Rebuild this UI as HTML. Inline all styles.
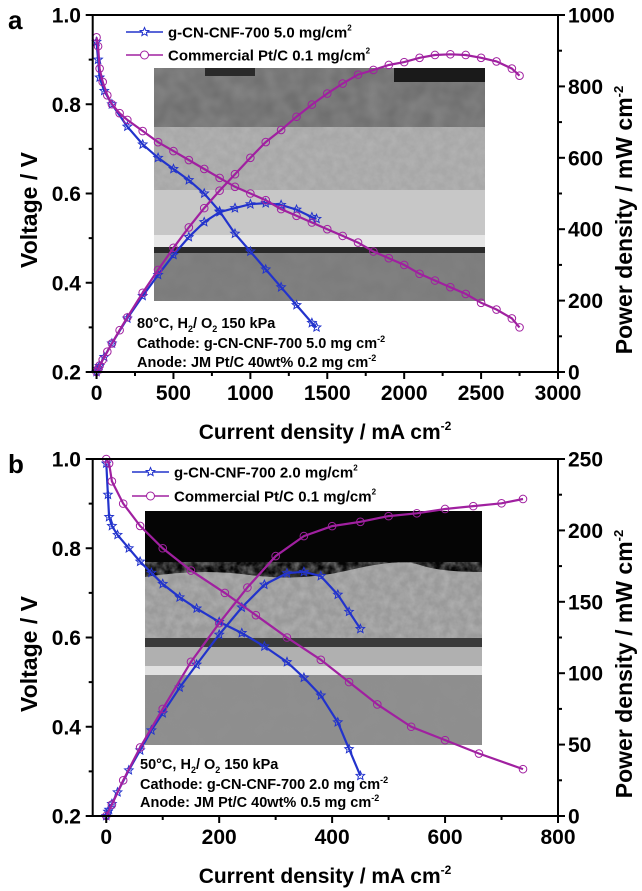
<!DOCTYPE html>
<html><head><meta charset="utf-8"><style>
html,body{margin:0;padding:0;background:#fff}
svg{display:block;font-family:"Liberation Sans",Arial,sans-serif;font-weight:bold}
</style></head><body>
<svg id="fig" width="642" height="891" viewBox="0 0 642 891">
<defs>
<filter id="tex" x="0" y="0" width="100%" height="100%">
<feTurbulence type="fractalNoise" baseFrequency="0.12" numOctaves="3" seed="3"/>
<feColorMatrix type="matrix" values="0 0 0 0 0.5  0 0 0 0 0.5  0 0 0 0 0.5  0 0 0 1.1 -0.3"/>
</filter>
<filter id="tex2" x="0" y="0" width="100%" height="100%">
<feTurbulence type="fractalNoise" baseFrequency="0.06" numOctaves="2" seed="8"/>
<feColorMatrix type="matrix" values="0 0 0 0 0.3  0 0 0 0 0.3  0 0 0 0 0.3  0 0 0 0.9 -0.2"/>
</filter>
</defs>
<g>
<rect x="154" y="68" width="331" height="60" fill="#707070"/>
<rect x="154" y="68" width="331" height="60" filter="url(#tex2)" opacity="0.9"/>
<rect x="394" y="68" width="91" height="14" fill="#1a1a1a"/>
<rect x="205" y="68" width="50" height="8" fill="#2a2a2a"/>
<rect x="154" y="127" width="331" height="63" fill="#a8a8a8"/>
<rect x="154" y="127" width="331" height="63" filter="url(#tex)" opacity="0.8"/>
<rect x="154" y="190" width="331" height="45" fill="#c7c7c7"/>
<rect x="154" y="235" width="331" height="12" fill="#e6e6e6"/>
<rect x="154" y="247" width="331" height="6" fill="#2a2a2a"/>
<rect x="154" y="253" width="331" height="48" fill="#7c7c7c"/>
<rect x="154" y="253" width="331" height="48" filter="url(#tex2)" opacity="0.4"/>
</g>
<g>
<rect x="145" y="511" width="337" height="234" fill="#050505"/>
<path d="M145 577 Q200 568 250 575 T350 570 T420 565 T482 572 L482 638 L145 638 Z" fill="#9a9a9a"/>
<path d="M145 577 Q200 568 250 575 T350 570 T420 565 T482 572 L482 638 L145 638 Z" fill="#000" filter="url(#tex)" opacity="0.9"/>
<rect x="145" y="638" width="337" height="9" fill="#3a3a3a"/>
<rect x="145" y="647" width="337" height="19" fill="#b0b0b0"/>
<rect x="145" y="666" width="337" height="9" fill="#e0e0e0"/>
<rect x="145" y="675" width="337" height="70" fill="#8e8e8e"/>
<rect x="145" y="675" width="337" height="70" filter="url(#tex2)" opacity="0.35"/>
</g>
</svg>
<script>
const aGcnI = [0,10,20,50,100,200,300,400,500,600,700,800,900,1000,1100,1200,1300,1400,1430];
const aGcnV = [0.94,0.90,0.86,0.83,0.80,0.75,0.71,0.68,0.655,0.63,0.60,0.56,0.51,0.47,0.43,0.39,0.35,0.31,0.30];
const aGcnP = [0,9,17,42,80,150,213,272,328,378,420,448,459,470,473,468,455,434,429];
const aPtI = [0,10,20,40,70,100,150,200,300,400,500,600,700,800,900,1000,1100,1200,1300,1400,1500,1600,1700,1800,1900,2000,2100,2200,2300,2400,2500,2600,2700,2750];
const aPtV = [0.95,0.93,0.88,0.85,0.82,0.80,0.78,0.765,0.74,0.715,0.695,0.675,0.655,0.635,0.615,0.60,0.585,0.565,0.55,0.535,0.52,0.505,0.49,0.47,0.455,0.44,0.42,0.405,0.39,0.375,0.355,0.34,0.32,0.30];
const aPtP = [0,9,18,34,57,80,117,153,222,286,348,405,459,508,554,600,644,678,715,749,780,808,833,846,860,868,880,888,890,888,880,870,850,830];
const aXTicks = [0,500,1000,1500,2000,2500,3000];
const aVTicks = [0.2,0.4,0.6,0.8,1.0];
const aPTicks = [0,200,400,600,800,1000];
const bGcnI = [0,3,5,10,20,40,60,80,100,130,160,200,240,280,320,350,380,410,430,450];
const bGcnV = [0.99,0.92,0.87,0.85,0.83,0.80,0.77,0.745,0.72,0.69,0.665,0.635,0.61,0.58,0.545,0.51,0.47,0.41,0.35,0.29];
const bGcnP = [0,3,4.4,8.5,16.6,32,46,60,72,90,106,127,146,162,170,171,168,155,143,131];
const bPtVI = [0,5,10,30,60,100,150,210,265,320,380,430,480,540,600,660,738];
const bPtV = [1.0,0.99,0.95,0.90,0.85,0.80,0.75,0.70,0.65,0.60,0.55,0.50,0.45,0.40,0.37,0.34,0.305];
const bPtPI = [0,10,30,60,100,150,200,250,300,350,400,450,500,550,600,650,700,738];
const bPtP = [0,8,25,48,75,108,135,160,182,196,203,206,210,212,215,217,219,222];
const bXTicks = [0,200,400,600,800];
const bVTicks = [0.2,0.4,0.6,0.8,1.0];
const bPTicks = [0,50,100,150,200,250];

const NS = "http://www.w3.org/2000/svg";
const svg = document.getElementById('fig');
const BLUE = "#2233cc", PINK = "#a020a0";
function mk(tag, attrs, parent){
  const e = document.createElementNS(NS, tag);
  for (const k in attrs) e.setAttribute(k, attrs[k]);
  (parent||svg).appendChild(e);
  return e;
}
function starPath(cx, cy, r){
  let d = "";
  for (let i=0;i<10;i++){
    const rr = i%2===0 ? r : r*0.45;
    const a = -Math.PI/2 + i*Math.PI/5;
    d += (i===0?"M":"L") + (cx+rr*Math.cos(a)).toFixed(1) + " " + (cy+rr*Math.sin(a)).toFixed(1);
  }
  return d + "Z";
}
function series(g, xs, ys, sx, sy, color, marker, name){
  const sg = mk('g', {}, g);
  
  
  const pts = xs.map((x,i)=> sx(x).toFixed(1)+","+sy(ys[i]).toFixed(1)).join(" ");
  const pl = mk('polyline', {points:pts, fill:"none", stroke:color, "stroke-width":2.2}, sg);
  
  
  xs.forEach((x,i)=>{
    let m;
    if (marker==='circle') m = mk('circle', {cx:sx(x), cy:sy(ys[i]), r:3.8, fill:"none", stroke:color, "stroke-width":1}, sg);
    else m = mk('path', {d:starPath(sx(x), sy(ys[i]), 4.5), fill:"none", stroke:color, "stroke-width":1}, sg);
    
    
  });
}
function txt(parent, x, y, s, attrs){
  const t = mk('text', Object.assign({x:x, y:y}, attrs||{}), parent);
  t.textContent = s;
  return t;
}
function panel(cfg){
  const g = mk('g', {});
  
  
  const L=92.7, R=558, T=cfg.top, B=cfg.top+357;
  const sx = v => L + (v - cfg.xmin)/(cfg.xmax - cfg.xmin)*(R-L);
  const sv = v => B - (v - 0.2)/0.8*(B-T);
  const sp = v => B - v/cfg.pmax*(B-T);
  series(g, cfg.gI, cfg.gV, sx, sv, BLUE, 'star', 'gcn-voltage-curve');
  series(g, cfg.gI, cfg.gP, sx, sp, BLUE, 'star', 'gcn-power-curve');
  series(g, cfg.pVI, cfg.pV, sx, sv, PINK, 'circle', 'ptc-voltage-curve');
  series(g, cfg.pPI, cfg.pP, sx, sp, PINK, 'circle', 'ptc-power-curve');
  const fr = mk('rect', {x:L, y:T, width:R-L, height:B-T, fill:"none", stroke:"#000", "stroke-width":2}, g);
  
  
  const xg = mk('g', {}, g);
  
  
  cfg.xt.forEach((v,i)=>{
    mk('line', {x1:sx(v), x2:sx(v), y1:B, y2:B+7, stroke:"#000", "stroke-width":2}, xg);
    if (i < cfg.xt.length-1){ const m=(v+cfg.xt[i+1])/2; mk('line',{x1:sx(m),x2:sx(m),y1:B,y2:B+4,stroke:"#000","stroke-width":2},xg); }
    const t = txt(xg, sx(v), B+28, String(v), {"text-anchor":"middle", "font-size":21});
    
    
  });
  const lg = mk('g', {}, g);
  
  
  cfg.vt.forEach((v,i)=>{
    mk('line', {x1:L-7, x2:L, y1:sv(v), y2:sv(v), stroke:"#000", "stroke-width":2}, lg);
    if (i < cfg.vt.length-1){ const m=(v+cfg.vt[i+1])/2; mk('line',{x1:L-4,x2:L,y1:sv(m),y2:sv(m),stroke:"#000","stroke-width":2},lg); }
    const t = txt(lg, 81, sv(v)+7.5, v.toFixed(1), {"text-anchor":"end", "font-size":21});
    
    
  });
  const rg = mk('g', {}, g);
  
  
  cfg.pt.forEach((v,i)=>{
    mk('line', {x1:R, x2:R+7, y1:sp(v), y2:sp(v), stroke:"#000", "stroke-width":2}, rg);
    if (i < cfg.pt.length-1){ const m=(v+cfg.pt[i+1])/2; mk('line',{x1:R,x2:R+4,y1:sp(m),y2:sp(m),stroke:"#000","stroke-width":2},rg); }
    const t = txt(rg, 568, sp(v)+7.5, String(v), {"text-anchor":"start", "font-size":21});
    
    
  });
  const xt = txt(g, 325, B+67, "Current density / mA cm", {"text-anchor":"middle", "font-size":21});
  const sup = mk('tspan', {dy:-9, "font-size":12}, xt); sup.textContent = "-2";
  
  
  const yt = txt(g, 0, 0, "Voltage / V", {"text-anchor":"middle", "font-size":23, transform:`translate(37,${T+195}) rotate(-90)`});
  
  
  const pt = txt(g, 0, 0, "Power density / mW cm", {"text-anchor":"middle", "font-size":23, transform:`translate(632,${T+205}) rotate(-90)`});
  const sup2 = mk('tspan', {dy:-9, "font-size":13}, pt); sup2.textContent = "-2";
  
  
  const pl = txt(g, 8, T+14, cfg.id, {"font-size":26});
  
  
  const lgd = mk('g', {}, g);
  
  
  [[BLUE,'star',cfg.leg1,cfg.legY1],[PINK,'circle',cfg.leg2,cfg.legY2]].forEach(([c,m,label,y])=>{
    const e = mk('g', {}, lgd);
    
    
    mk('line', {x1:cfg.legX, x2:cfg.legX+37, y1:y, y2:y, stroke:c, "stroke-width":1.5}, e);
    if (m==='circle') mk('circle', {cx:cfg.legX+18.5, cy:y, r:4, fill:"#fff", stroke:c, "stroke-width":1}, e);
    else mk('path', {d:starPath(cfg.legX+18.5, y, 4.5), fill:"#fff", stroke:c, "stroke-width":1}, e);
    const t = txt(e, cfg.legX+42, y+5.5, label, {"font-size":15});
    const s = mk('tspan', {dy:-7, "font-size":8}, t); s.textContent = "2";
  });
  const an = mk('g', {}, g);
  
  
  const a1 = txt(an, cfg.annX, cfg.annY[0]+5, cfg.ann1, {"font-size":14.5});
  const a1s = mk('tspan', {dy:4, "font-size":9}, a1); a1s.textContent = "2";
  const a1b = mk('tspan', {dy:-4}, a1); a1b.textContent = "/ O";
  const a1c = mk('tspan', {dy:4, "font-size":9}, a1); a1c.textContent = "2";
  const a1d = mk('tspan', {dy:-4}, a1); a1d.textContent = " 150 kPa";
  const a2 = txt(an, cfg.annX, cfg.annY[1]+5, cfg.ann2, {"font-size":14.5});
  const a2s = mk('tspan', {dy:-6, "font-size":9}, a2); a2s.textContent = "-2";
  const a3 = txt(an, cfg.annX, cfg.annY[2]+5, cfg.ann3, {"font-size":14.5});
  const a3s = mk('tspan', {dy:-6, "font-size":9}, a3); a3s.textContent = "-2";
}
panel({id:'a', top:15, xmin:-25, xmax:3000, pmax:1000,
  gI:aGcnI, gV:aGcnV, gP:aGcnP, pVI:aPtI, pV:aPtV, pPI:aPtI, pP:aPtP,
  xt:aXTicks, vt:aVTicks, pt:aPTicks,
  legX:126, legY1:32, legY2:55, leg1:"g-CN-CNF-700 5.0 mg/cm", leg2:"Commercial Pt/C 0.1 mg/cm",
  annX:137, annY:[323,343,362], ann1:"80°C, H", ann2:"Cathode: g-CN-CNF-700 5.0 mg cm", ann3:"Anode: JM Pt/C 40wt% 0.2 mg cm"});
panel({id:'b', top:459, xmin:-24, xmax:800, pmax:250,
  gI:bGcnI, gV:bGcnV, gP:bGcnP, pVI:bPtVI, pV:bPtV, pPI:bPtPI, pP:bPtP,
  xt:bXTicks, vt:bVTicks, pt:bPTicks,
  legX:132, legY1:472, legY2:496, leg1:"g-CN-CNF-700 2.0 mg/cm", leg2:"Commercial Pt/C 0.1 mg/cm",
  annX:140, annY:[764,784,802], ann1:"50°C, H", ann2:"Cathode: g-CN-CNF-700 2.0 mg cm", ann3:"Anode: JM Pt/C 40wt% 0.5 mg cm"});
</script>
</body></html>
